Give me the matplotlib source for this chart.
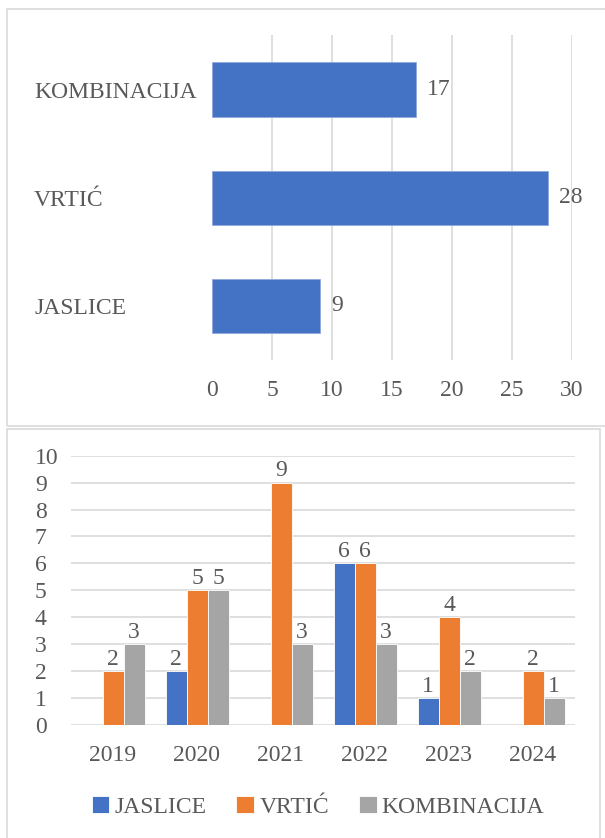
import matplotlib
matplotlib.use("Agg")
import matplotlib.pyplot as plt
from matplotlib.patches import Rectangle
import numpy as np

# podaci - gornji graf (ukupno po vrsti)
vrste = ["JASLICE", "VRTIĆ", "KOMBINACIJA"]
ukupno = [9, 28, 17]

# podaci - donji graf (po godinama)
godine = ["2019", "2020", "2021", "2022", "2023", "2024"]
jaslice = [0, 2, 0, 6, 1, 0]
vrtic = [2, 5, 9, 6, 4, 2]
kombinacija = [3, 5, 3, 3, 2, 1]

BLUE = "#4472C4"
ORANGE = "#ED7D31"
GRAY = "#A5A5A5"
GRID = "#D9D9D9"
TXT = "#595959"
FS = 17

plt.rcParams['font.family'] = ['Liberation Serif', 'DejaVu Serif']

W, H = 605, 838
fig = plt.figure(figsize=(W / 100, H / 100), dpi=100)


def fr(x0, y0, x1, y1):
    """pikseli (od gore) -> koordinate figure"""
    return [x0 / W, 1 - y1 / H, (x1 - x0) / W, (y1 - y0) / H]


# okviri oko grafova
fig.add_artist(Rectangle((7 / W, 1 - 426 / H), 620 / W, 417 / H, transform=fig.transFigure,
                         fill=False, edgecolor="#D9D9D9", linewidth=1.2))
fig.add_artist(Rectangle((7 / W, 1 - 860 / H), 593 / W, 431 / H, transform=fig.transFigure,
                         fill=False, edgecolor="#D9D9D9", linewidth=1.2))

# ---- gornji graf: horizontalni stupci ----
ax1 = fig.add_axes(fr(212, 35.5, 572, 359.5))
y = np.arange(len(vrste))
bars = ax1.barh(y, ukupno, height=0.5, color=BLUE, edgecolor="#8FAADC", linewidth=0.6, zorder=3)
ax1.set_xlim(0, 30)
ax1.set_ylim(-0.5, 2.5)
ax1.set_xticks(range(0, 31, 5))
for xv in range(5, 31, 5):
    ax1.axvline(xv, color=GRID, linewidth=1.2, zorder=1)
ax1.set_yticks(y)
ax1.set_yticklabels(vrste, ha="left")
ax1.tick_params(axis="y", length=0, pad=128, labelsize=FS, labelcolor=TXT)
ax1.tick_params(axis="x", length=0, pad=14.5, labelsize=FS, labelcolor=TXT)
for s in ax1.spines.values():
    s.set_visible(False)
ax1.bar_label(bars, padding=8, fontsize=FS, color=TXT)

# ---- donji graf: grupirani stupci ----
ax2 = fig.add_axes(fr(71, 455.7, 575, 725))
x = np.arange(len(godine))
w = 0.25
serije = [("JASLICE", jaslice, BLUE), ("VRTIĆ", vrtic, ORANGE), ("KOMBINACIJA", kombinacija, GRAY)]
for i, (ime, vals, col) in enumerate(serije):
    b = ax2.bar(x + (i - 1) * w, vals, width=w, color=col, edgecolor="white",
                linewidth=0.6, label=ime, zorder=3)
    labs = [str(v) if v > 0 else "" for v in vals]
    ax2.bar_label(b, labels=labs, padding=1, fontsize=FS, color=TXT)

ax2.set_xlim(-0.5, 5.5)
ax2.set_ylim(0, 10)
ax2.set_yticks(range(0, 11))
ax2.set_yticklabels([str(v) for v in range(0, 11)], ha="left")
ax2.set_xticks(x)
ax2.set_xticklabels(godine)
ax2.grid(axis="y", color=GRID, linewidth=1.2, zorder=0)
ax2.set_axisbelow(True)
ax2.tick_params(axis="y", length=0, pad=26, labelsize=FS, labelcolor=TXT)
ax2.tick_params(axis="x", length=0, pad=14.5, labelsize=FS, labelcolor=TXT)
for s in ax2.spines.values():
    s.set_visible(False)

leg = fig.legend(loc="center", bbox_to_anchor=(318 / W, 1 - 807 / H), ncol=3, frameon=False,
                 fontsize=FS, handlelength=0.76, handleheight=0.76, handletextpad=0.21,
                 columnspacing=1.27, borderaxespad=0)
for t in leg.get_texts():
    t.set_color(TXT)

fig.savefig("out.png", dpi=100)
